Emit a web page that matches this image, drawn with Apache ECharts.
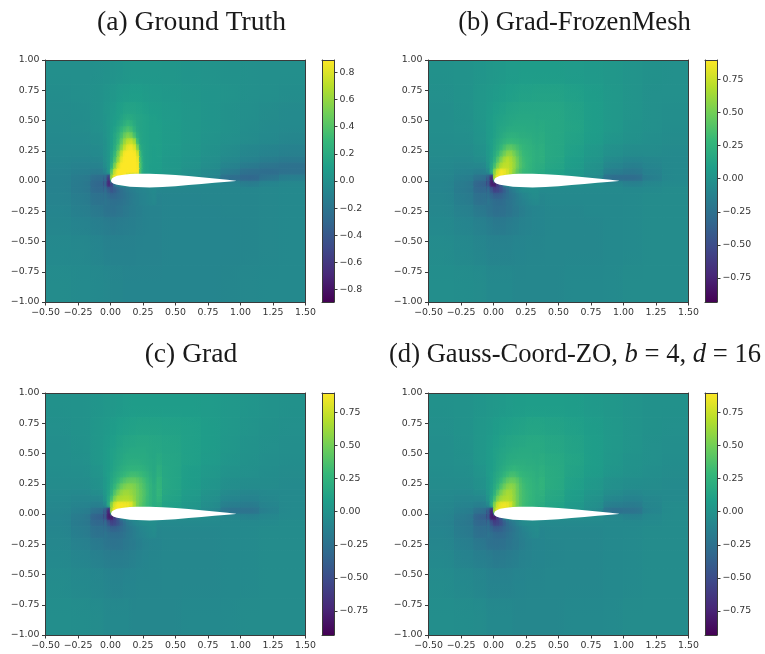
<!DOCTYPE html>
<html>
<head>
<meta charset="utf-8">
<style>html,body{margin:0;padding:0;background:#fff}#c{width:765px;height:654px;filter:blur(0.35px)}</style>
<script src="https://cdn.jsdelivr.net/npm/echarts@6/dist/echarts.min.js"></script>
</head>
<body>
<div id="c"></div>
<script>
// Cell edges of the hand-read field; rows below run top to bottom.
const xEdges = [-0.5,-0.3,-0.15,-0.05,0,0.05,0.1,0.15,0.2,0.25,0.3,0.4,0.55,0.7,0.85,1,1.15,1.3,1.5];
const yEdges = [1,0.8,0.65,0.5,0.4,0.3,0.2,0.15,0.1,0.05,0,-0.05,-0.1,-0.2,-0.3,-0.45,-0.7,-1];
// Finer hand-read cells around the leading edge.
const patchX = [-0.05,-0.025,0,0.025,0.05,0.075,0.1,0.125,0.15,0.175,0.2,0.225,0.25,0.275,0.3,0.325,0.35];
const patchY = [0.55,0.5,0.45,0.4,0.35,0.3,0.25,0.2,0.15,0.1,0.05,0,-0.05,-0.1,-0.15,-0.2];

const fieldA = [
[-.01,-.01,.0,.01,.02,.03,.04,.05,.05,.05,.05,.04,.03,.02,.01,.0,-.01,-.01],
[-.02,-.01,.01,.03,.05,.07,.08,.09,.09,.08,.07,.06,.04,.03,.02,.0,-.01,-.02],
[-.03,-.02,.01,.04,.07,.11,.14,.14,.13,.11,.09,.07,.05,.03,.01,-.01,-.03,-.04],
[-.04,-.03,0,.04,.09,.16,.22,.24,.19,.14,.11,.08,.05,.03,.01,-.02,-.04,-.05],
[-.05,-.04,-.02,.03,.12,.26,.42,.50,.27,.15,.11,.08,.05,.02,.0,-.03,-.05,-.07],
[-.06,-.06,-.04,.02,.17,.45,.70,.78,.32,.15,.11,.07,.04,.01,-.03,-.07,-.09,-.11],
[-.07,-.08,-.07,.02,.25,.70,.88,.89,.28,.14,.10,.06,.03,-.01,-.06,-.10,-.14,-.16],
[-.08,-.10,-.10,.0,.40,.85,.89,.89,.25,.14,.10,.06,.02,-.02,-.09,-.16,-.20,-.22],
[-.09,-.12,-.15,-.05,.70,.89,.89,.88,.22,.13,.09,.05,.0,-.05,-.15,-.24,-.25,-.22],
[-.10,-.15,-.25,-.55,.55,.85,.5,.2,.15,.1,.08,.03,-.02,-.07,-.25,-.30,-.20,-.12],
[-.10,-.16,-.30,-.70,-.3,-.1,0,0,0,0,0,-.02,-.04,-.05,-.08,-.14,-.08,-.06],
[-.10,-.16,-.28,-.50,-.42,-.25,-.15,-.12,-.1,-.08,-.07,-.07,-.07,-.07,-.07,-.07,-.06,-.05],
[-.09,-.14,-.22,-.30,-.32,-.26,-.2,-.16,-.13,-.1,-.09,-.08,-.08,-.07,-.07,-.07,-.06,-.05],
[-.08,-.12,-.17,-.21,-.22,-.2,-.17,-.14,-.12,-.1,-.09,-.08,-.08,-.08,-.07,-.07,-.06,-.05],
[-.07,-.09,-.12,-.14,-.15,-.14,-.13,-.12,-.11,-.1,-.09,-.08,-.08,-.08,-.08,-.07,-.06,-.05],
[-.05,-.06,-.08,-.1,-.1,-.1,-.1,-.1,-.09,-.09,-.09,-.08,-.08,-.08,-.08,-.07,-.06,-.05],
[-.03,-.04,-.05,-.06,-.07,-.07,-.08,-.08,-.08,-.08,-.08,-.08,-.08,-.08,-.07,-.06,-.05,-.05]
];
const patchA = [
[.03,.05,.07,.09,.11,.14,.17,.19,.18,.16,.15,.14,.13,.12,.11,.11],
[.03,.05,.08,.1,.14,.18,.23,.27,.24,.19,.15,.14,.13,.12,.11,.11],
[.02,.05,.09,.13,.19,.27,.34,.38,.34,.24,.16,.14,.13,.12,.11,.11],
[.02,.05,.1,.16,.25,.36,.48,.54,.5,.36,.2,.15,.13,.12,.11,.11],
[.01,.05,.1,.18,.3,.46,.62,.72,.74,.64,.3,.15,.13,.12,.11,.11],
[.01,.05,.11,.22,.38,.58,.75,.84,.86,.8,.52,.18,.14,.12,.11,.1],
[.01,.05,.15,.3,.52,.75,.88,.89,.89,.88,.76,.24,.14,.12,.11,.1],
[0,.05,.18,.38,.62,.84,.89,.89,.89,.89,.84,.3,.14,.12,.11,.1],
[-.02,.05,.25,.55,.8,.89,.89,.89,.89,.89,.87,.33,.14,.12,.1,.1],
[-.08,.05,.45,.78,.89,.89,.89,.89,.89,.89,.88,.3,.14,.12,.1,.09],
[-.28,-.6,.7,.88,.89,.89,.89,.5,.3,.2,.14,.12,.1,.09,.09,.08],
[-.35,-.7,-.5,-.2,-.1,0,0,0,0,0,0,0,0,0,0,0],
[-.26,-.36,-.42,-.36,-.3,-.24,-.2,-.17,-.14,-.12,-.1,-.09,-.08,-.07,-.06,-.05],
[-.22,-.27,-.3,-.29,-.27,-.24,-.21,-.19,-.16,-.14,-.12,-.1,-.09,-.08,-.07,-.06],
[-.2,-.22,-.24,-.24,-.23,-.21,-.2,-.18,-.15,-.13,-.12,-.1,-.09,-.08,-.07,-.06]
];
const fieldB = [
[-.01,.0,.02,.03,.04,.05,.06,.06,.07,.07,.07,.07,.06,.05,.03,.01,-.01,-.02],
[-.02,.0,.03,.05,.06,.08,.09,.1,.11,.11,.12,.12,.1,.07,.04,.01,-.02,-.02],
[-.03,-.01,.03,.06,.09,.11,.13,.14,.15,.15,.15,.15,.12,.08,.04,.01,-.02,-.03],
[-.03,-.02,.02,.07,.11,.15,.18,.2,.2,.19,.18,.16,.13,.08,.04,.0,-.02,-.04],
[-.04,-.03,.01,.07,.13,.2,.26,.29,.27,.24,.2,.16,.12,.07,.02,-.01,-.03,-.05],
[-.05,-.05,-.01,.07,.18,.36,.48,.46,.35,.29,.22,.16,.1,.04,-.02,-.05,-.05,-.06],
[-.06,-.07,-.04,.06,.28,.55,.65,.55,.38,.29,.22,.15,.08,.02,-.06,-.1,-.08,-.07],
[-.07,-.09,-.08,.03,.40,.65,.70,.55,.38,.28,.2,.14,.07,.0,-.1,-.14,-.1,-.07],
[-.08,-.11,-.14,-.05,.60,.85,.80,.6,.36,.25,.18,.12,.05,-.02,-.16,-.2,-.12,-.07],
[-.09,-.14,-.25,-.6,.6,.85,.7,.45,.3,.2,.15,.1,.03,-.05,-.28,-.28,-.14,-.07],
[-.10,-.17,-.35,-.75,-.4,-.1,.02,0,0,0,0,-.01,-.03,-.04,-.08,-.13,-.08,-.06],
[-.10,-.18,-.32,-.55,-.62,-.42,-.22,-.15,-.1,-.07,-.06,-.06,-.06,-.06,-.06,-.07,-.06,-.05],
[-.09,-.16,-.26,-.36,-.40,-.36,-.28,-.21,-.16,-.12,-.09,-.07,-.07,-.07,-.07,-.06,-.05,-.05],
[-.08,-.13,-.19,-.24,-.27,-.26,-.23,-.19,-.15,-.12,-.1,-.08,-.08,-.07,-.07,-.06,-.05,-.05],
[-.07,-.1,-.13,-.16,-.18,-.18,-.16,-.14,-.12,-.11,-.1,-.08,-.08,-.08,-.07,-.06,-.05,-.05],
[-.05,-.07,-.09,-.11,-.11,-.11,-.11,-.1,-.1,-.09,-.09,-.08,-.08,-.08,-.07,-.06,-.05,-.05],
[-.03,-.04,-.05,-.07,-.07,-.07,-.07,-.08,-.08,-.08,-.08,-.08,-.07,-.07,-.06,-.05,-.05,-.05]
];
const patchB = [
[.06,.08,.1,.11,.12,.13,.14,.15,.15,.16,.16,.16,.16,.16,.16,.15],
[.06,.08,.1,.12,.13,.14,.15,.16,.17,.17,.17,.17,.17,.17,.17,.16],
[.06,.08,.1,.13,.15,.16,.18,.19,.19,.19,.19,.19,.18,.18,.18,.17],
[.06,.08,.11,.14,.17,.2,.22,.23,.23,.22,.21,.21,.2,.2,.19,.18],
[.06,.09,.13,.17,.21,.25,.28,.29,.28,.27,.25,.24,.23,.22,.2,.19],
[.05,.09,.15,.21,.28,.36,.42,.43,.39,.34,.3,.27,.25,.24,.22,.2],
[.05,.1,.18,.28,.4,.5,.58,.58,.5,.41,.34,.29,.27,.25,.23,.21],
[.04,.12,.24,.4,.55,.66,.7,.66,.58,.47,.37,.31,.28,.26,.23,.21],
[.02,.16,.35,.55,.68,.72,.72,.68,.6,.48,.38,.32,.28,.25,.22,.2],
[-.06,.2,.6,.8,.88,.85,.78,.68,.55,.42,.34,.29,.27,.24,.21,.19],
[-.4,-.75,.75,.88,.88,.8,.7,.55,.4,.33,.28,.25,.22,.2,.18,.16],
[-.45,-.8,-.8,-.6,-.4,-.1,0,0,0,0,0,0,0,0,0,0],
[-.3,-.45,-.58,-.55,-.48,-.37,-.28,-.2,-.15,-.1,-.07,-.05,-.04,-.03,-.03,-.03],
[-.26,-.32,-.37,-.37,-.35,-.31,-.27,-.23,-.2,-.16,-.13,-.1,-.08,-.06,-.05,-.05],
[-.22,-.26,-.28,-.29,-.29,-.27,-.24,-.22,-.19,-.16,-.14,-.12,-.1,-.08,-.07,-.06]
];
const fieldC = [
[-.01,.0,.02,.03,.04,.05,.06,.07,.07,.07,.07,.07,.07,.06,.04,.02,.0,-.01],
[-.02,.0,.03,.05,.07,.09,.1,.11,.12,.12,.12,.11,.1,.07,.04,.01,-.01,-.02],
[-.03,-.01,.03,.06,.09,.12,.14,.15,.16,.16,.15,.13,.1,.07,.03,.0,-.02,-.03],
[-.03,-.02,.03,.07,.11,.15,.19,.2,.2,.2,.18,.14,.1,.06,.02,-.01,-.03,-.04],
[-.04,-.03,.01,.08,.14,.2,.25,.28,.29,.27,.22,.14,.08,.04,0,-.02,-.04,-.05],
[-.05,-.05,-.01,.08,.2,.38,.47,.47,.43,.38,.27,.14,.07,.02,-.03,-.05,-.05,-.06],
[-.06,-.07,-.04,.07,.3,.55,.62,.6,.5,.42,.28,.13,.06,0,-.07,-.09,-.07,-.06],
[-.07,-.09,-.08,.04,.42,.66,.68,.66,.54,.4,.26,.12,.05,-.02,-.1,-.12,-.08,-.06],
[-.08,-.11,-.14,-.05,.62,.85,.86,.8,.55,.35,.22,.1,.03,-.04,-.15,-.17,-.1,-.06],
[-.09,-.14,-.26,-.6,.62,.85,.8,.6,.4,.25,.17,.08,.01,-.07,-.24,-.24,-.12,-.06],
[-.10,-.17,-.36,-.75,-.4,-.1,.02,0,0,0,-.01,-.03,-.04,-.05,-.08,-.12,-.08,-.06],
[-.10,-.18,-.32,-.55,-.6,-.4,-.2,-.14,-.1,-.08,-.07,-.07,-.07,-.07,-.07,-.07,-.06,-.05],
[-.09,-.16,-.25,-.34,-.36,-.32,-.25,-.19,-.15,-.11,-.09,-.08,-.08,-.08,-.07,-.06,-.05,-.05],
[-.08,-.13,-.18,-.22,-.24,-.23,-.2,-.17,-.14,-.11,-.1,-.08,-.08,-.08,-.07,-.06,-.05,-.05],
[-.07,-.1,-.13,-.15,-.16,-.16,-.15,-.13,-.11,-.1,-.09,-.08,-.08,-.08,-.07,-.06,-.05,-.05],
[-.05,-.07,-.08,-.1,-.11,-.11,-.1,-.1,-.09,-.09,-.09,-.08,-.08,-.08,-.07,-.06,-.05,-.05],
[-.03,-.04,-.05,-.07,-.07,-.07,-.07,-.08,-.08,-.08,-.08,-.08,-.07,-.07,-.06,-.05,-.05,-.05]
];
const patchC = [
[.06,.08,.1,.11,.13,.14,.15,.16,.17,.17,.17,.17,.17,.16,.16,.15],
[.06,.08,.1,.12,.14,.15,.17,.18,.18,.18,.18,.18,.18,.17,.16,.15],
[.06,.08,.1,.13,.15,.17,.19,.2,.21,.21,.21,.2,.19,.18,.17,.16],
[.06,.08,.11,.14,.17,.2,.22,.24,.25,.25,.25,.24,.22,.2,.18,.16],
[.06,.09,.13,.17,.21,.25,.28,.31,.33,.33,.32,.3,.27,.24,.2,.17],
[.05,.09,.15,.21,.28,.35,.4,.44,.45,.45,.42,.38,.33,.28,.23,.18],
[.05,.1,.18,.28,.38,.48,.53,.56,.56,.53,.48,.42,.36,.3,.25,.2],
[.04,.12,.24,.4,.52,.6,.63,.63,.6,.56,.5,.44,.38,.31,.25,.2],
[.02,.16,.35,.55,.65,.67,.68,.68,.65,.58,.5,.44,.37,.3,.25,.2],
[-.06,.2,.6,.82,.88,.88,.87,.86,.82,.66,.5,.42,.35,.29,.24,.19],
[-.4,-.75,.75,.88,.88,.85,.8,.7,.55,.42,.35,.3,.26,.22,.19,.16],
[-.45,-.8,-.8,-.6,-.4,-.1,0,0,0,0,0,0,0,0,0,0],
[-.3,-.45,-.56,-.53,-.45,-.34,-.25,-.18,-.14,-.1,-.08,-.06,-.05,-.05,-.04,-.04],
[-.26,-.31,-.35,-.35,-.33,-.29,-.25,-.21,-.18,-.15,-.12,-.1,-.08,-.07,-.06,-.05],
[-.22,-.25,-.27,-.27,-.27,-.25,-.23,-.2,-.18,-.15,-.13,-.11,-.1,-.08,-.07,-.06]
];
const fieldD = [
[-.01,.0,.02,.03,.04,.05,.06,.07,.07,.08,.08,.08,.07,.05,.03,.01,-.01,-.01],
[-.02,.0,.03,.05,.07,.09,.1,.11,.12,.13,.13,.12,.1,.07,.04,.01,-.01,-.02],
[-.03,-.01,.03,.06,.09,.12,.14,.15,.16,.17,.17,.15,.12,.08,.04,.01,-.02,-.03],
[-.03,-.02,.03,.07,.11,.15,.18,.2,.21,.21,.2,.17,.13,.08,.03,.0,-.02,-.04],
[-.04,-.03,.01,.08,.14,.2,.26,.29,.29,.26,.23,.18,.12,.07,.02,-.01,-.03,-.05],
[-.05,-.05,-.01,.08,.19,.37,.48,.46,.37,.31,.26,.18,.1,.04,-.02,-.04,-.05,-.06],
[-.06,-.07,-.04,.07,.3,.52,.6,.53,.39,.31,.24,.16,.08,.02,-.05,-.08,-.06,-.06],
[-.07,-.09,-.08,.04,.42,.62,.66,.53,.38,.29,.22,.15,.07,.0,-.09,-.12,-.08,-.06],
[-.08,-.11,-.14,-.05,.6,.82,.82,.62,.4,.27,.2,.13,.05,-.02,-.15,-.17,-.09,-.05],
[-.09,-.14,-.26,-.6,.6,.85,.75,.5,.32,.22,.16,.1,.03,-.05,-.26,-.24,-.1,-.05],
[-.10,-.17,-.36,-.75,-.42,-.12,.02,0,0,0,0,-.02,-.03,-.04,-.08,-.12,-.07,-.05],
[-.11,-.19,-.33,-.55,-.6,-.42,-.24,-.17,-.12,-.08,-.07,-.07,-.07,-.07,-.07,-.07,-.06,-.05],
[-.1,-.17,-.27,-.36,-.38,-.34,-.28,-.22,-.17,-.12,-.1,-.08,-.08,-.08,-.07,-.06,-.05,-.05],
[-.09,-.14,-.2,-.25,-.26,-.25,-.22,-.19,-.15,-.12,-.1,-.09,-.08,-.08,-.07,-.06,-.05,-.05],
[-.07,-.11,-.14,-.16,-.18,-.17,-.16,-.14,-.12,-.11,-.1,-.09,-.08,-.08,-.07,-.06,-.05,-.05],
[-.05,-.07,-.09,-.11,-.11,-.11,-.11,-.1,-.1,-.09,-.09,-.08,-.08,-.08,-.07,-.06,-.05,-.05],
[-.03,-.04,-.05,-.07,-.07,-.07,-.07,-.08,-.08,-.08,-.08,-.08,-.07,-.07,-.06,-.05,-.05,-.05]
];
const patchD = [
[.06,.08,.1,.11,.13,.14,.15,.16,.17,.17,.18,.18,.18,.18,.17,.17],
[.06,.08,.1,.12,.14,.15,.17,.18,.18,.19,.19,.19,.19,.19,.18,.18],
[.06,.08,.1,.13,.15,.17,.19,.2,.21,.21,.21,.21,.2,.2,.2,.19],
[.06,.08,.11,.14,.17,.2,.23,.25,.26,.25,.24,.23,.22,.22,.21,.2],
[.06,.09,.13,.17,.21,.26,.31,.34,.34,.31,.28,.26,.25,.24,.23,.21],
[.05,.09,.15,.21,.29,.37,.44,.47,.46,.41,.34,.3,.28,.26,.24,.22],
[.05,.1,.18,.28,.39,.49,.56,.58,.55,.46,.37,.32,.29,.27,.25,.23],
[.04,.12,.24,.4,.53,.61,.65,.64,.57,.47,.38,.33,.3,.28,.25,.23],
[.02,.16,.35,.55,.64,.67,.68,.66,.58,.48,.38,.33,.3,.27,.25,.22],
[-.06,.2,.58,.78,.85,.86,.84,.78,.62,.47,.38,.32,.29,.26,.24,.21],
[-.4,-.75,.72,.85,.85,.82,.75,.62,.45,.36,.3,.27,.24,.21,.19,.17],
[-.45,-.8,-.8,-.6,-.4,-.1,0,0,0,0,0,0,0,0,0,0],
[-.3,-.46,-.58,-.55,-.48,-.37,-.28,-.22,-.17,-.12,-.08,-.06,-.05,-.05,-.04,-.04],
[-.27,-.33,-.38,-.38,-.36,-.32,-.28,-.25,-.21,-.17,-.14,-.11,-.09,-.07,-.06,-.05],
[-.23,-.27,-.29,-.3,-.3,-.28,-.25,-.23,-.2,-.17,-.15,-.13,-.11,-.09,-.07,-.06]
];

const foilX = [0.003,0.01,0.025,0.05,0.1,0.15,0.2,0.3,0.4,0.5,0.6,0.7,0.8,0.9,0.965];
const foilUpper = [0.0,0.02,0.032,0.043,0.052,0.057,0.059,0.06,0.056,0.05,0.041,0.031,0.021,0.01,0.003];
const foilLower = [0.0,-0.012,-0.022,-0.03,-0.04,-0.047,-0.05,-0.053,-0.05,-0.043,-0.034,-0.024,-0.015,-0.006,0.0];

const barTicksA = [-0.8,-0.6,-0.4,-0.2,0,0.2,0.4,0.6,0.8];
const barTicksB = [-0.75,-0.5,-0.25,0,0.25,0.5,0.75];

const viridis = ['#440154','#482878','#3e4989','#31688e','#26828e','#1f9e89','#35b779','#6ece58','#b5de2b','#fde725'];
const fontFam = '"DejaVu Sans"';
const ink = '#333';
const fmt2 = v => v.toFixed(2).replace('-', '\u2212');
const fmt1 = v => v.toFixed(1).replace('-', '\u2212');

const panels = [
  {left:45.5, top:60, field:fieldA, patch:patchA, min:-0.892, max:0.892, barLeft:322, barW:12, ticks:barTicksA, fmt:fmt1},
  {left:428.5,top:60, field:fieldB, patch:patchB, min:-0.932, max:0.897, barLeft:705, barW:12, ticks:barTicksB, fmt:fmt2},
  {left:45.5, top:393,field:fieldC, patch:patchC, min:-0.932, max:0.897, barLeft:322, barW:12, ticks:barTicksB, fmt:fmt2},
  {left:428.5,top:393,field:fieldD, patch:patchD, min:-0.932, max:0.897, barLeft:705, barW:12, ticks:barTicksB, fmt:fmt2}
];
const W = 260, H = 242;

const grid=[], xAxis=[], yAxis=[], series=[];
const labelStyle = {color:ink, fontFamily:fontFam, fontSize:9.4};
const lineStyle = {color:'#3a3a3a', width:1};
const plainAxis = {axisLine:{show:true,onZero:false,lineStyle},axisTick:{show:false},axisLabel:{show:false},splitLine:{show:false},z:5,type:'value'};

const toCells = rows => { const out=[]; rows.forEach((row,r)=>row.forEach((v,c)=>out.push([c,r,v]))); return out; };
// Index of the cell holding v along ascending or descending edges (-1 when outside).
const locate = (edges,v) => {
  for(let i=0;i<edges.length-1;i++){
    const lo=Math.min(edges[i],edges[i+1]), hi=Math.max(edges[i],edges[i+1]);
    if(v>=lo && v<hi) return i;
  }
  return -1;
};
const readAt = (p,x,y) => {
  const pc=locate(patchX,x), pr=locate(patchY,y);
  if(pc>=0&&pr>=0) return p.patch[pr][pc];
  const c=locate(xEdges,x), r=locate(yEdges,y);
  return (c>=0&&r>=0)?p.field[r][c]:null;
};
const LG = (x2,y2,stops) => new echarts.graphic.LinearGradient(0,0,x2,y2,stops);
// Each cell is one mark with its read value at its centre; the fill shades towards the neighbour's colour at each edge.
const cellRender = (p,xs,ys) => {
  const colorOf = v => echarts.color.lerp(Math.max(0,Math.min(1,(v-p.min)/(p.max-p.min))),viridis);
  const eps = 1e-4;
  const edgeColor = (v,nb) => colorOf(nb===null?v:(v+nb)/2);
  return (params,api)=>{
    const c=api.value(0), r=api.value(1), v=api.value(2);
    const x0=xs[c], x1=xs[c+1], y0=ys[r], y1=ys[r+1];
    const a=api.coord([x0,y0]), b=api.coord([x1,y1]);
    const mx=(x0+x1)/2, my=(y0+y1)/2, own=colorOf(v);
    const vFill=LG(0,1,[
      {offset:0,color:edgeColor(v,readAt(p,mx,y0+eps))},{offset:.5,color:own},{offset:1,color:edgeColor(v,readAt(p,mx,y1-eps))}]);
    const hFill=LG(1,0,[
      {offset:0,color:edgeColor(v,readAt(p,x0-eps,my))},{offset:.5,color:own},{offset:1,color:edgeColor(v,readAt(p,x1+eps,my))}]);
    const shape={x:a[0],y:a[1],width:b[0]-a[0],height:b[1]-a[1]};
    return {type:'group',children:[
      {type:'rect',shape,style:{fill:vFill,stroke:vFill,lineWidth:1}},
      {type:'rect',shape,style:{fill:hFill,opacity:0.5}}
    ]};
  };
};

panels.forEach((p)=>{
  const g = grid.length;
  grid.push({left:p.left, top:p.top, width:W, height:H, show:false});
  grid.push({left:p.barLeft, top:p.top, width:p.barW, height:H, show:false});
  const xi = xAxis.length, yi = yAxis.length;
  xAxis.push({...plainAxis,gridIndex:g,min:-0.5,max:1.5,interval:0.25,position:'bottom',
    axisTick:{show:true,length:3.5,lineStyle},
    axisLabel:{...labelStyle,show:true,margin:6.5,formatter:fmt2,hideOverlap:false,showMinLabel:true,showMaxLabel:true}});
  xAxis.push({...plainAxis,gridIndex:g,min:-0.5,max:1.5,position:'top'});
  xAxis.push({...plainAxis,gridIndex:g+1,min:0,max:1,position:'bottom'});
  xAxis.push({...plainAxis,gridIndex:g+1,min:0,max:1,position:'top'});
  yAxis.push({...plainAxis,gridIndex:g,min:-1,max:1,interval:0.25,position:'left',
    axisTick:{show:true,length:3.5,lineStyle},
    axisLabel:{...labelStyle,show:true,margin:6,formatter:fmt2,hideOverlap:false,showMinLabel:true,showMaxLabel:true}});
  yAxis.push({...plainAxis,gridIndex:g,min:-1,max:1,position:'right'});
  yAxis.push({...plainAxis,gridIndex:g+1,min:p.min,max:p.max,position:'right',
    axisTick:{show:true,length:3.5,lineStyle,customValues:p.ticks},
    axisLabel:{...labelStyle,show:true,margin:5.5,formatter:p.fmt,customValues:p.ticks,hideOverlap:false}});
  yAxis.push({...plainAxis,gridIndex:g+1,min:p.min,max:p.max,position:'left'});

  series.push({type:'custom',xAxisIndex:xi,yAxisIndex:yi,clip:true,silent:true,coordinateSystem:'cartesian2d',
    data:toCells(p.field),encode:{x:0,y:1},z:2,renderItem:cellRender(p,xEdges,yEdges)});
  series.push({type:'custom',xAxisIndex:xi,yAxisIndex:yi,clip:true,silent:true,coordinateSystem:'cartesian2d',
    data:toCells(p.patch),encode:{x:0,y:1},z:2.5,renderItem:cellRender(p,patchX,patchY)});
  series.push({type:'custom',xAxisIndex:xi,yAxisIndex:yi,clip:true,silent:true,z:3,coordinateSystem:'cartesian2d',
    data:[[0,0]],encode:{x:0,y:1},
    renderItem:(params,api)=>{
      const pts=[];
      foilX.forEach((x,k)=>pts.push(api.coord([x,foilUpper[k]])));
      for(let k=foilX.length-1;k>=0;k--) pts.push(api.coord([foilX[k],foilLower[k]]));
      return {type:'polygon',shape:{points:pts},style:{fill:'#fff'}};
    }});
  series.push({type:'custom',xAxisIndex:xi+2,yAxisIndex:yi+2,clip:true,silent:true,z:2,coordinateSystem:'cartesian2d',
    data:[[0,p.min,1,p.max]],encode:{x:[0,2],y:[1,3]},
    renderItem:(params,api)=>{
      const a=api.coord([0,p.max]), b=api.coord([1,p.min]);
      return {type:'rect',shape:{x:a[0],y:a[1],width:b[0]-a[0],height:b[1]-a[1]},
        style:{fill:LG(0,1,viridis.map((c,k)=>({offset:1-k/(viridis.length-1),color:c})).reverse())}};
    }});
});

const titleFont = '"Liberation Serif"';
const titleBase = {textAlign:'center',textVerticalAlign:'middle'};
const tStyle = s => ({fontFamily:titleFont,fontSize:s,fontWeight:'normal',color:'#1a1a1a'});
const title = [
  {text:'(a) Ground Truth',left:186.5,top:18,...titleBase,textStyle:tStyle(27.6)},
  {text:'(b) Grad-FrozenMesh',left:569.5,top:18,...titleBase,textStyle:tStyle(26.6)},
  {text:'(c) Grad',left:186,top:350,...titleBase,textStyle:tStyle(27.6)},
  {text:'(d) Gauss-Coord-ZO, {i|b} = 4, {i|d} = 16',left:570,top:350,...titleBase,
   textStyle:{...tStyle(26.6),rich:{i:{fontFamily:titleFont,fontSize:26.6,fontStyle:'italic',color:'#1a1a1a'}}}}
];

const chart = echarts.init(document.getElementById('c'),null,{renderer:'canvas',width:765,height:654});
chart.setOption({animation:false,backgroundColor:'#fff',title,grid,xAxis,yAxis,series,tooltip:{show:false}});
</script>
</body>
</html>
